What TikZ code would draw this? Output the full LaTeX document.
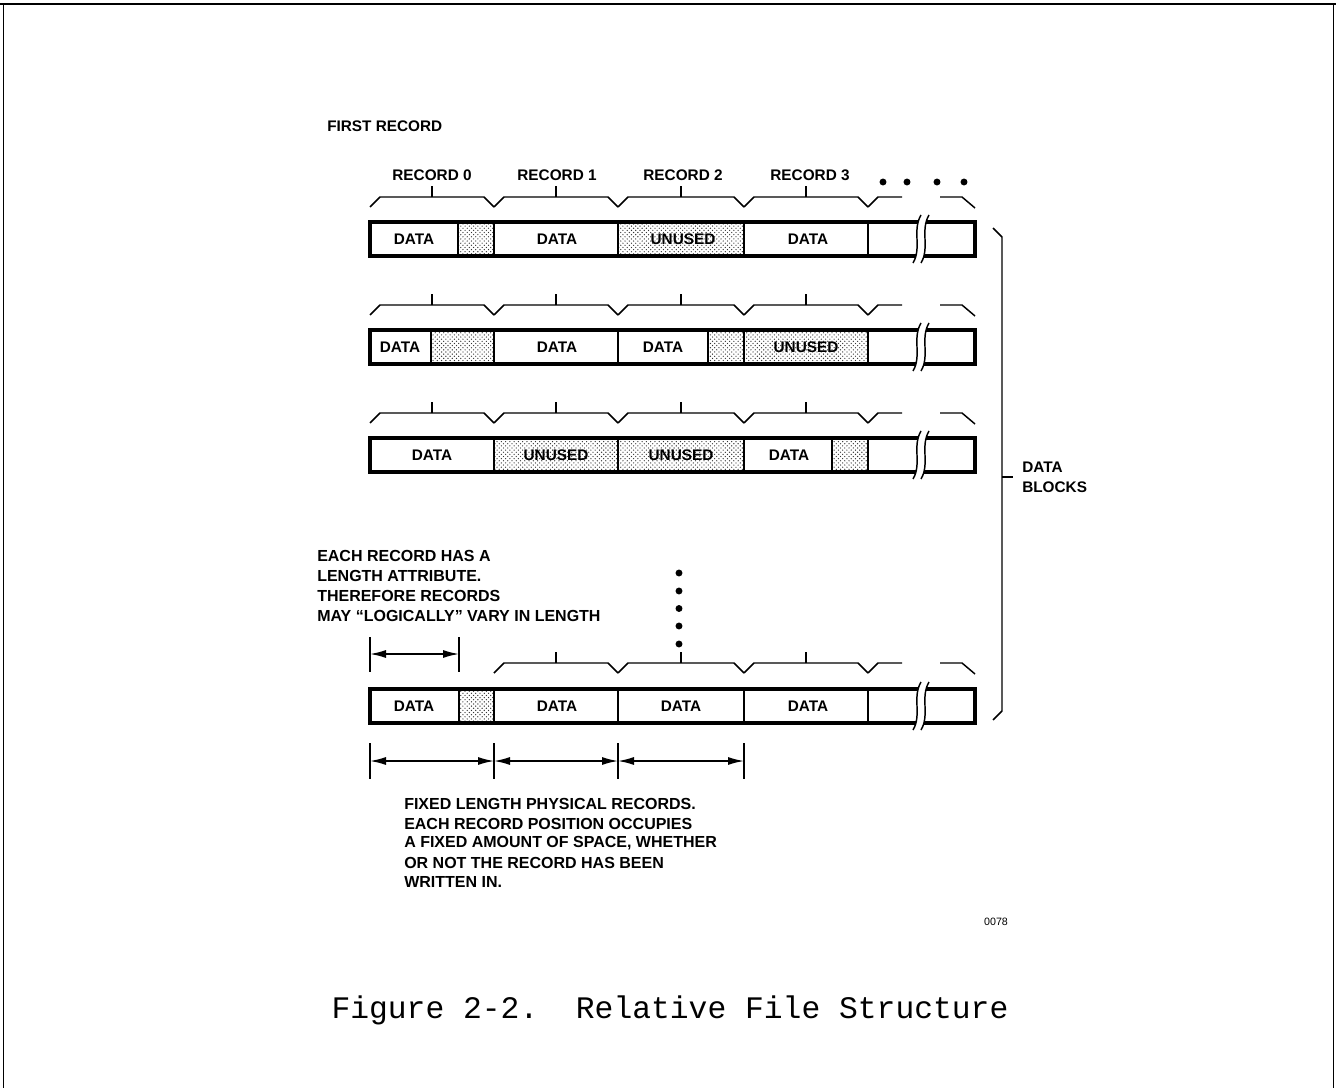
\documentclass[tikz,border=0pt]{standalone}
\usepackage{fontspec}
\setmainfont{Liberation Sans}
\setmonofont{Liberation Mono}
\usetikzlibrary{patterns,arrows.meta}
\pgfdeclarepatternformonly{stipple}{\pgfqpoint{-0.6pt}{-0.6pt}}{\pgfqpoint{3.8pt}{3.8pt}}{\pgfqpoint{3.2pt}{3.2pt}}{%
  \pgfpathcircle{\pgfqpoint{0pt}{0pt}}{0.5pt}%
  \pgfpathcircle{\pgfqpoint{1.6pt}{1.6pt}}{0.5pt}%
  \pgfusepath{fill}}
\newcommand\recbrace[3]{%
  \draw[brc] (#1,#3+10) -- (#1+10,#3) -- (#2-10,#3) -- (#2,#3+10);
  \draw[brc] ({(#1+#2)/2},#3) -- ++(0,-11);}
\newcommand\brkmark[2]{% x, top
  \fill[white] (#1+4,#2-7) .. controls (#1-5,#2+8) and (#1+5,#2+26) .. (#1-4,#2+41)
     -- (#1+4,#2+41) .. controls (#1+13,#2+26) and (#1+3,#2+8) .. (#1+12,#2-7) -- cycle;
  \draw[brc] (#1+4,#2-7) .. controls (#1-5,#2+8) and (#1+5,#2+26) .. (#1-4,#2+41);
  \draw[brc] (#1+12,#2-7) .. controls (#1+3,#2+8) and (#1+13,#2+26) .. (#1+4,#2+41);}
\begin{document}
\begin{tikzpicture}[x=0.75pt,y=-0.75pt,
  lbl/.style={font=\bfseries\fontsize{11.5}{13}\selectfont, inner sep=0pt},
  para/.style={font=\bfseries\fontsize{12}{15}\selectfont, inner sep=0pt, anchor=west},
  brc/.style={line width=1.1pt, line join=miter},
  outer/.style={line width=2.3pt},
  divider/.style={line width=1.1pt},
  stip/.style={pattern=stipple, pattern color=black!80},
  dim/.style={line width=1.1pt,{Latex[length=12pt,width=6pt]}-{Latex[length=12pt,width=6pt]}},
  dimbar/.style={line width=1.1pt},
  dot/.style={circle, fill=black, inner sep=0pt, minimum size=5.2pt},
]
\useasboundingbox (0,0) rectangle (1336,1088);
% page frame
\draw[line width=2.2pt] (0,4) -- (1336,4);
\draw[line width=0.7pt] (3,4) -- (3,1088);
\draw[line width=0.7pt] (1333,4) -- (1333,1088);

\node[lbl, anchor=west] (first) at (327,126) {FIRST RECORD};

% record labels
\node[lbl] (r0) at (432,175) {RECORD 0};
\node[lbl] (r1) at (557,175) {RECORD 1};
\node[lbl] (r2) at (683,175) {RECORD 2};
\node[lbl] (r3) at (810,175) {RECORD 3};
\node[dot] (d1) at (883,182) {};
\node[dot] (d2) at (907,182) {};
\node[dot] (d3) at (937,182) {};
\node[dot] (d4) at (964,182) {};

% ---------- row 1 ----------
\recbrace{370}{494}{197}\recbrace{494}{618}{197}\recbrace{618}{744}{197}\recbrace{744}{868}{197}
\draw[brc] (868,207) -- (878,197) -- (902,197);
\draw[brc] (940,197) -- (962,197) -- (975,208);
\fill[stip] (458,222) rectangle (494,256);
\fill[stip] (618,222) rectangle (744,256);
\foreach \x in {458,494,618,744,868} \draw[divider] (\x,222) -- (\x,256);
\draw[outer] (370,222) rectangle (975,256);
\brkmark{917}{222}
\node[lbl] (a1) at (414,239) {DATA};
\node[lbl] (a2) at (557,239) {DATA};
\node[lbl] (a3) at (683,239) {UNUSED};
\node[lbl] (a4) at (808,239) {DATA};

% ---------- row 2 ----------
\recbrace{370}{494}{305}\recbrace{494}{618}{305}\recbrace{618}{744}{305}\recbrace{744}{868}{305}
\draw[brc] (868,315) -- (878,305) -- (902,305);
\draw[brc] (940,305) -- (962,305) -- (975,316);
\fill[stip] (431,330) rectangle (494,364);
\fill[stip] (708,330) rectangle (868,364);
\foreach \x in {431,494,618,708,744,868} \draw[divider] (\x,330) -- (\x,364);
\draw[outer] (370,330) rectangle (975,364);
\brkmark{917}{330}
\node[lbl] (b1) at (400,347) {DATA};
\node[lbl] (b2) at (557,347) {DATA};
\node[lbl] (b3) at (663,347) {DATA};
\node[lbl] (b4) at (806,347) {UNUSED};

% ---------- row 3 ----------
\recbrace{370}{494}{413}\recbrace{494}{618}{413}\recbrace{618}{744}{413}\recbrace{744}{868}{413}
\draw[brc] (868,423) -- (878,413) -- (902,413);
\draw[brc] (940,413) -- (962,413) -- (975,424);
\fill[stip] (494,438) rectangle (744,472);
\fill[stip] (832,438) rectangle (868,472);
\foreach \x in {494,618,744,832,868} \draw[divider] (\x,438) -- (\x,472);
\draw[outer] (370,438) rectangle (975,472);
\brkmark{917}{438}
\node[lbl] (c1) at (432,455) {DATA};
\node[lbl] (c2) at (556,455) {UNUSED};
\node[lbl] (c3) at (681,455) {UNUSED};
\node[lbl] (c4) at (789,455) {DATA};

% right brace
\draw[brc] (993,228) -- (1002,237) -- (1002,711) -- (993,720);
\draw[brc] (1002,477) -- (1013,477);
\node[lbl, anchor=west] (db1) at (1022,467) {DATA};
\node[lbl, anchor=west] (db2) at (1022,487) {BLOCKS};

% paragraph 1
\node[para] (p1) at (317,555.5) {EACH RECORD HAS A};
\node[para] (p2) at (317,575.5) {LENGTH ATTRIBUTE.};
\node[para] (p3) at (317,595.5) {THEREFORE RECORDS};
\node[para] (p4) at (317,615.5) {MAY “LOGICALLY” VARY IN LENGTH};

% vertical dots
\foreach \y [count=\i] in {573,591,608.5,626,644} \node[dot] (v\i) at (679,\y) {};

% logical length arrow
\coordinate (la) at (370,654);
\coordinate (lb) at (459,654);
\draw[dimbar] (370,637) -- (370,672);
\draw[dimbar] (459,637) -- (459,672);
\draw[dim] (la) -- (lb);

% ---------- row 4 ----------
\recbrace{494}{618}{663}\recbrace{618}{744}{663}\recbrace{744}{868}{663}
\draw[brc] (868,673) -- (878,663) -- (902,663);
\draw[brc] (940,663) -- (962,663) -- (975,674);
\fill[stip] (459,689) rectangle (494,723);
\foreach \x in {459,494,618,744,868} \draw[divider] (\x,689) -- (\x,723);
\draw[outer] (370,689) rectangle (975,723);
\brkmark{917}{689}
\node[lbl] (e1) at (414,706) {DATA};
\node[lbl] (e2) at (557,706) {DATA};
\node[lbl] (e3) at (681,706) {DATA};
\node[lbl] (e4) at (808,706) {DATA};

% fixed length arrows
\coordinate (m0) at (370,761);
\coordinate (m1) at (494,761);
\coordinate (m2) at (618,761);
\coordinate (m3) at (744,761);
\foreach \x in {370,494,618,744} \draw[dimbar] (\x,743) -- (\x,779);
\draw[dim] (m0) -- (m1);
\draw[dim] (m1) -- (m2);
\draw[dim] (m2) -- (m3);

% paragraph 2
\node[para] (q1) at (404,804) {FIXED LENGTH PHYSICAL RECORDS.};
\node[para] (q2) at (404,823.5) {EACH RECORD POSITION OCCUPIES};
\node[para] (q3) at (404,843) {A FIXED AMOUNT OF SPACE, WHETHER};
\node[para] (q4) at (404,862.5) {OR NOT THE RECORD HAS BEEN};
\node[para] (q5) at (404,882) {WRITTEN IN.};

\node[font=\fontsize{8}{10}\selectfont, inner sep=0pt] (num) at (996,922) {0078};

\node[font=\ttfamily\fontsize{23.5}{26}\selectfont, inner sep=0pt] (cap) at (670,1010) {Figure 2-2.\ \ Relative File Structure};
\end{tikzpicture}
\end{document}
